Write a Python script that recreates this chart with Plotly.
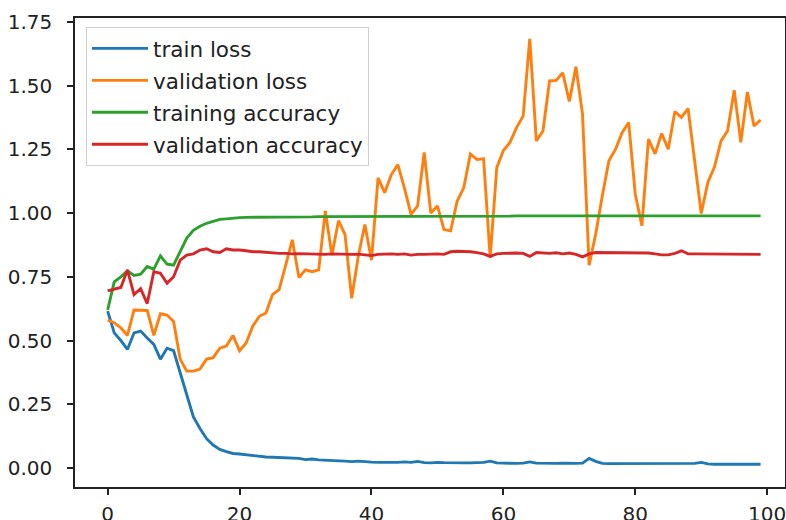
import plotly.graph_objects as go

epochs = list(range(100))

train_loss = [
    0.615, 0.53, 0.50, 0.465, 0.53, 0.537, 0.51, 0.485, 0.427, 0.47,
    0.46, 0.37, 0.28, 0.20, 0.155, 0.115, 0.09, 0.073, 0.064, 0.057,
    0.055, 0.052, 0.048, 0.045, 0.043, 0.042, 0.041, 0.040, 0.037, 0.038,
    0.033, 0.035, 0.032, 0.030, 0.028, 0.028, 0.027, 0.025, 0.027, 0.024,
    0.023, 0.022, 0.021, 0.021, 0.022, 0.024, 0.022, 0.026, 0.021, 0.020,
    0.022, 0.021, 0.020, 0.019, 0.020, 0.020, 0.021, 0.022, 0.027, 0.020,
    0.019, 0.018, 0.018, 0.019, 0.024, 0.019, 0.018, 0.018, 0.018, 0.019,
    0.018, 0.018, 0.019, 0.038, 0.026, 0.018, 0.017, 0.017, 0.018, 0.017,
    0.017, 0.016, 0.016, 0.016, 0.017, 0.016, 0.016, 0.018, 0.018, 0.018,
    0.022, 0.016, 0.015, 0.015, 0.016, 0.015, 0.015, 0.015, 0.015, 0.015,
]

val_loss = [
    0.58, 0.57, 0.55, 0.52, 0.62, 0.618, 0.618, 0.52, 0.605, 0.60,
    0.575, 0.427, 0.38, 0.38, 0.388, 0.427, 0.433, 0.47, 0.478, 0.52,
    0.46, 0.49, 0.556, 0.595, 0.608, 0.68, 0.70, 0.796, 0.895, 0.747,
    0.777, 0.77, 0.777, 1.008, 0.835, 0.97, 0.915, 0.666, 0.83, 0.955,
    0.815, 1.138, 1.08, 1.15, 1.19, 1.098, 0.995, 1.028, 1.238, 1.0,
    1.028, 0.935, 0.93, 1.047, 1.1, 1.232, 1.21, 1.213, 0.825, 1.178,
    1.245, 1.277, 1.335, 1.38, 1.683, 1.283, 1.322, 1.518, 1.52, 1.55,
    1.438, 1.574, 1.388, 0.795, 0.918, 1.068, 1.205, 1.25, 1.315, 1.355,
    1.074, 0.95, 1.29, 1.232, 1.312, 1.25, 1.398, 1.375, 1.41, 1.205,
    0.998, 1.12, 1.18, 1.283, 1.323, 1.482, 1.277, 1.475, 1.342, 1.365,
]

train_acc = [
    0.62, 0.73, 0.75, 0.773, 0.755, 0.76, 0.79, 0.78, 0.832, 0.80,
    0.796, 0.848, 0.902, 0.932, 0.948, 0.96, 0.968, 0.975, 0.977, 0.98,
    0.982, 0.983, 0.983, 0.984, 0.984, 0.984, 0.984, 0.985, 0.985, 0.985,
    0.985, 0.985, 0.986, 0.986, 0.986, 0.986, 0.986, 0.986, 0.987, 0.987,
    0.987, 0.987, 0.987, 0.987, 0.987, 0.987, 0.987, 0.988, 0.988, 0.988,
    0.988, 0.988, 0.988, 0.988, 0.988, 0.988, 0.988, 0.988, 0.988, 0.988,
    0.988, 0.988, 0.989, 0.989, 0.989, 0.989, 0.989, 0.989, 0.989, 0.989,
    0.989, 0.989, 0.989, 0.988, 0.989, 0.989, 0.989, 0.989, 0.989, 0.989,
    0.989, 0.989, 0.989, 0.989, 0.989, 0.989, 0.989, 0.989, 0.989, 0.989,
    0.989, 0.989, 0.989, 0.989, 0.989, 0.989, 0.989, 0.989, 0.989, 0.989,
]

val_acc = [
    0.695, 0.703, 0.708, 0.777, 0.68, 0.703, 0.645, 0.77, 0.764, 0.725,
    0.75, 0.815, 0.835, 0.84, 0.855, 0.86, 0.848, 0.845, 0.86, 0.855,
    0.855, 0.852, 0.848, 0.848, 0.845, 0.843, 0.842, 0.842, 0.840, 0.841,
    0.840, 0.840, 0.839, 0.838, 0.840, 0.839, 0.838, 0.838, 0.839, 0.836,
    0.833, 0.838, 0.840, 0.840, 0.838, 0.840, 0.835, 0.838, 0.838, 0.840,
    0.840, 0.838, 0.848, 0.850, 0.850, 0.848, 0.845, 0.840, 0.830, 0.840,
    0.842, 0.843, 0.843, 0.842, 0.830, 0.845, 0.843, 0.842, 0.844, 0.840,
    0.843, 0.838, 0.828, 0.840, 0.845, 0.845, 0.843, 0.843, 0.845, 0.843,
    0.845, 0.845, 0.843, 0.840, 0.836, 0.836, 0.842, 0.852, 0.840, 0.840,
    0.840, 0.840, 0.840, 0.840, 0.840, 0.839, 0.838, 0.838, 0.838, 0.838,
]

series_names = ["train loss", "validation loss", "training accuracy", "validation accuracy"]
series_values = [train_loss, val_loss, train_acc, val_acc]
colors = ["#1f77b4", "#ff7f0e", "#2ca02c", "#d62728"]

x_ticks = [0, 20, 40, 60, 80, 100]
y_ticks = [0.0, 0.25, 0.5, 0.75, 1.0, 1.25, 1.5, 1.75]

fig = go.Figure()
for name, vals, col in zip(series_names, series_values, colors):
    fig.add_trace(go.Scatter(
        x=epochs, y=vals, mode="lines", name=name, legendgroup=name,
        line=dict(color=col, width=2.9),
    ))

font = dict(family="DejaVu Sans", size=20, color="#222222")
legend_font = dict(family="DejaVu Sans", size=21.5, color="#222222")

fig.update_layout(
    width=786, height=520,
    margin=dict(l=75, r=1, t=18, b=33),
    paper_bgcolor="white", plot_bgcolor="white",
    font=font,
    showlegend=True,
    legend=dict(
        x=0.0155, y=0.981, xanchor="left", yanchor="top",
        bgcolor="rgba(255,255,255,0.8)", bordercolor="#d0d0d0", borderwidth=1,
        font=legend_font, tracegroupgap=1, itemwidth=56,
        traceorder="grouped",
    ),
    xaxis=dict(
        range=[-4.95, 102.7], tickvals=x_ticks, ticks="outside", ticklen=6, tickwidth=1.5,
        tickcolor="#222", showline=True, linecolor="#222", linewidth=1.5, mirror=True,
        showgrid=False, zeroline=False, automargin=False, ticklabelstandoff=2,
        ticklabeloverflow="allow",
    ),
    yaxis=dict(
        range=[-0.0745, 1.765], tickvals=y_ticks, tickformat=".2f", ticks="outside",
        ticklen=6, tickwidth=1.5, tickcolor="#222", showline=True, linecolor="#222",
        linewidth=1.5, mirror=True, showgrid=False, zeroline=False, automargin=False,
        ticklabelstandoff=11, ticklabeloverflow="allow",
    ),
)

fig.write_html(
    "out.html",
    config={"displayModeBar": False},
    post_script="document.body.style.margin='0';document.body.style.overflow='hidden';",
)
